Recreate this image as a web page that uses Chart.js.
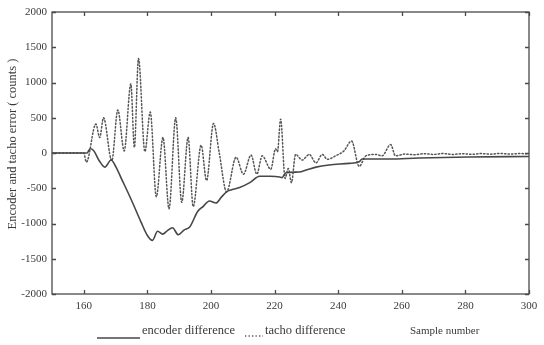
<!DOCTYPE html>
<html>
<head>
<meta charset="utf-8">
<script src="https://cdn.jsdelivr.net/npm/chart.js@4/dist/chart.umd.min.js"></script>
<style>
  html, body { margin: 0; padding: 0; background: #fff; }
  #wrap { width: 544px; height: 345px; }
</style>
</head>
<body>
<div id="wrap"><canvas id="c" width="544" height="345"></canvas></div>
<script>
// Encoder difference (solid line): sample number and error in counts
const encoderSamples = [150, 161, 162, 163, 165, 166.6, 168.6, 170, 172, 175, 178, 180, 181.6, 183.2, 184.8, 186.3, 187.9, 189.7, 191.6, 193.3, 195.8, 197.5, 199.5, 201.6, 203.2, 204.9, 206.5, 209, 212.2, 215.3, 218.5, 221.6, 222.3, 223.6, 227.7, 230, 233, 237.1, 243.4, 246.6, 247.5, 256, 265.4, 281, 300];
const encoderDiff = [0, 0, 60, 40, -120, -200, -100, -190, -380, -670, -980, -1170, -1240, -1110, -1150, -1100, -1060, -1160, -1090, -1050, -830, -760, -680, -710, -630, -550, -520, -490, -420, -330, -330, -340, -350, -280, -270, -240, -200, -170, -147, -124, -86, -86, -71, -57, -50];

// Tacho difference (dotted line): sample number and error in counts
const tachoSamples = [150, 160, 160.8, 163.8, 165, 166.2, 168.8, 170.7, 172.7, 174.8, 175.9, 177.2, 179.2, 180.9, 182.8, 184.9, 186.8, 188.9, 190.8, 192.8, 194.4, 196.9, 198.6, 200.8, 202.6, 204.9, 207.9, 210.2, 212.6, 214.4, 216.1, 218.8, 220.3, 220.9, 221.9, 223.3, 224.3, 225.3, 226.6, 228.7, 230.9, 233, 235, 236.6, 239.2, 241.8, 244.2, 246.6, 248.7, 251.8, 253.8, 256.5, 258, 261, 264, 267, 270, 273, 276, 279, 282, 285, 288, 291, 294, 297, 300];
const tachoDiff = [0, 0, -130, 410, 220, 500, -110, 610, 30, 980, 80, 1340, 20, 580, -620, 220, -790, 500, -700, 220, -760, 110, -390, 420, 0, -550, -60, -300, -30, -300, -40, -230, 60, 20, 480, -360, -220, -420, -20, -100, -20, -140, -20, -90, -40, 30, 170, -190, -40, -20, -40, 120, -40, -15, -25, -10, -20, -8, -20, -10, -18, -8, -16, -6, -15, -8, -12];

// Axis tick values
const xTickValues = [160, 180, 200, 220, 240, 260, 280, 300];
const yTickValues = [-2000, -1500, -1000, -500, 0, 500, 1000, 1500, 2000];

const seriesNames = ['encoder difference', 'tacho difference'];
const yTitle = 'Encoder and tacho error ( counts )';
const xTitle = 'Sample number';

const FONT = '"Liberation Serif", "Times New Roman", serif';
const INK = '#3a3a3a';
const LINE_ENC = '#474747';
const LINE_TACHO = '#555555';
const TACHO_DASH = [1.3, 2.2];

const toPoints = (xs, ys) => xs.map((v, i) => ({ x: v, y: ys[i] }));

// Boxed axes with inward ticks, rotated y title and the key line under the plot
const frameAndKey = {
  id: 'frameAndKey',
  afterDraw(chart) {
    const { ctx, chartArea: a, scales: { x, y } } = chart;
    ctx.save();
    ctx.strokeStyle = '#4a4a4a';
    ctx.lineWidth = 1.3;
    ctx.setLineDash([]);
    ctx.strokeRect(a.left, a.top, a.right - a.left, a.bottom - a.top);

    const t = 4;
    ctx.beginPath();
    x.ticks.forEach(tk => {
      const px = Math.round(x.getPixelForValue(tk.value)) + 0.5;
      ctx.moveTo(px, a.bottom); ctx.lineTo(px, a.bottom - t);
      ctx.moveTo(px, a.top); ctx.lineTo(px, a.top + t);
    });
    y.ticks.forEach(tk => {
      const py = Math.round(y.getPixelForValue(tk.value)) + 0.5;
      ctx.moveTo(a.left, py); ctx.lineTo(a.left + t, py);
      ctx.moveTo(a.right, py); ctx.lineTo(a.right - t, py);
    });
    ctx.stroke();

    ctx.fillStyle = INK;
    ctx.textBaseline = 'middle';

    // y axis title
    ctx.save();
    ctx.translate(13, (a.top + a.bottom) / 2 - 9);
    ctx.rotate(-Math.PI / 2);
    ctx.textAlign = 'center';
    ctx.font = '12.5px ' + FONT;
    ctx.fillText(yTitle, 0, 0);
    ctx.restore();

    // key: solid line + label, dotted line + label, then the x title
    const ky = 331;
    ctx.textAlign = 'left';
    ctx.font = '12.5px ' + FONT;
    ctx.strokeStyle = LINE_ENC;
    ctx.lineWidth = 1.3;
    ctx.beginPath();
    ctx.moveTo(97, ky + 7); ctx.lineTo(140, ky + 7);
    ctx.stroke();
    ctx.fillText(seriesNames[0], 142, ky);

    ctx.strokeStyle = LINE_TACHO;
    ctx.setLineDash(TACHO_DASH);
    ctx.beginPath();
    ctx.moveTo(245, ky + 5); ctx.lineTo(263, ky + 5);
    ctx.stroke();
    ctx.setLineDash([]);
    ctx.fillText(seriesNames[1], 265, ky);

    ctx.font = '11px ' + FONT;
    ctx.fillText(xTitle, 410, ky);
    ctx.restore();
  }
};

new Chart(document.getElementById('c'), {
  type: 'line',
  data: {
    datasets: [
      {
        label: seriesNames[0],
        data: toPoints(encoderSamples, encoderDiff),
        borderColor: LINE_ENC,
        borderWidth: 1.6,
        pointRadius: 0,
        cubicInterpolationMode: 'monotone',
        fill: false
      },
      {
        label: seriesNames[1],
        data: toPoints(tachoSamples, tachoDiff),
        borderColor: LINE_TACHO,
        borderWidth: 1.5,
        borderDash: TACHO_DASH,
        borderCapStyle: 'round',
        pointRadius: 0,
        cubicInterpolationMode: 'monotone',
        fill: false
      }
    ]
  },
  options: {
    responsive: false,
    animation: false,
    events: [],
    layout: { padding: { top: 12, right: 15, left: 0, bottom: 0 } },
    plugins: { legend: { display: false }, tooltip: { enabled: false } },
    scales: {
      x: {
        type: 'linear',
        min: 150,
        max: 300,
        afterBuildTicks: s => { s.ticks = xTickValues.map(v => ({ value: v })); },
        afterFit: s => { s.height = 51; },
        grid: { display: false, drawTicks: false },
        border: { display: false },
        ticks: { padding: 6, color: INK, font: { family: FONT, size: 11 }, maxRotation: 0, autoSkip: false }
      },
      y: {
        type: 'linear',
        min: -2000,
        max: 2000,
        afterBuildTicks: s => { s.ticks = yTickValues.map(v => ({ value: v })); },
        afterFit: s => { s.width = 52; },
        grid: { display: false, drawTicks: false },
        border: { display: false },
        ticks: { padding: 5, color: INK, font: { family: FONT, size: 11 }, callback: v => String(v) }
      }
    }
  },
  plugins: [frameAndKey]
});
</script>
</body>
</html>
